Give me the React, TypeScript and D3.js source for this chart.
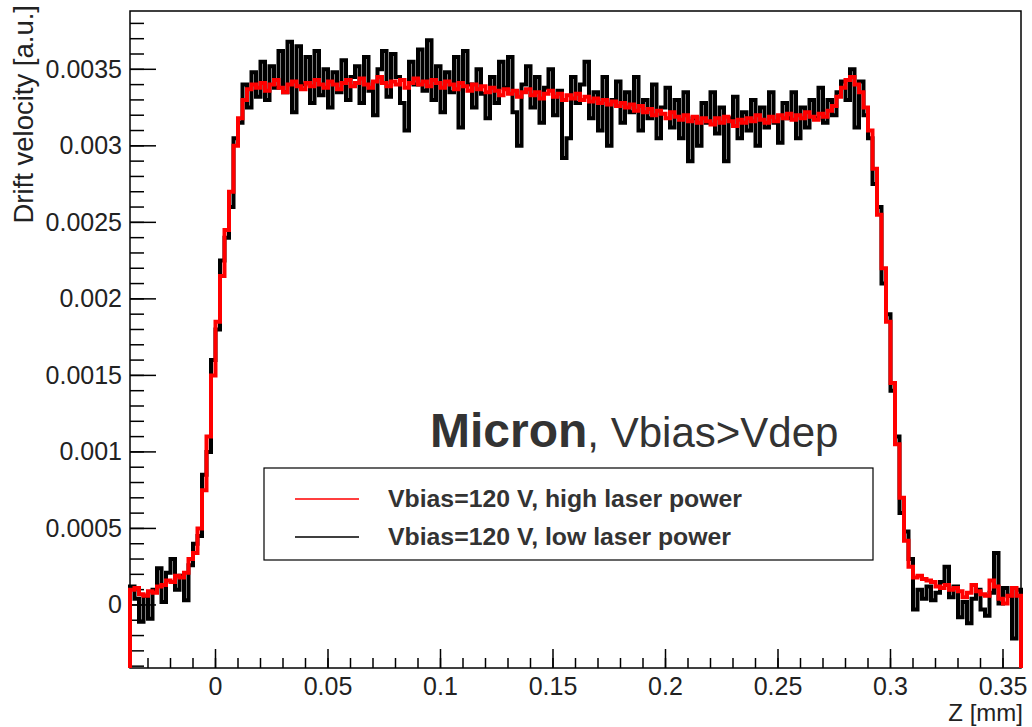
import React from "react";
import * as d3 from "d3";

// Histogram binning along Z [mm]: 198 bins of 2 µm from -0.038 mm
const zMin = -0.038;
const binWidth = 0.002;

// Drift velocity per bin [a.u.], Vbias = 120 V, high laser power
const highPower = [
  0.00010, 0.00011, 0.00007, 0.00006, 0.00009, 0.00008, 0.00012, 0.00013, 0.00016, 0.00015,
  0.00019, 0.00018, 0.00021, 0.00030, 0.00034, 0.00050, 0.00075, 0.00110, 0.00150, 0.00185,
  0.00215, 0.00245, 0.00270, 0.00300, 0.00318, 0.00330, 0.00337, 0.00340,
  0.00338, 0.00341, 0.00336, 0.00340, 0.00343, 0.00338, 0.00335, 0.00340, 0.00342, 0.00339,
  0.00337, 0.00341, 0.00339, 0.00343, 0.00340, 0.00338, 0.00342, 0.00340, 0.00337, 0.00341,
  0.00343, 0.00339, 0.00341, 0.00344, 0.00340, 0.00338, 0.00342, 0.00345, 0.00341, 0.00339,
  0.00342, 0.00340, 0.00343, 0.00338, 0.00341, 0.00344, 0.00340, 0.00342, 0.00339, 0.00343,
  0.00341, 0.00338, 0.00342, 0.00340, 0.00337, 0.00341, 0.00339, 0.00336, 0.00340, 0.00337,
  0.00339, 0.00335, 0.00338, 0.00336, 0.00333, 0.00337, 0.00334, 0.00336, 0.00332, 0.00335,
  0.00337, 0.00333, 0.00335, 0.00331, 0.00334, 0.00336, 0.00332, 0.00334, 0.00330, 0.00333,
  0.00331, 0.00334, 0.00330, 0.00332, 0.00329, 0.00331, 0.00328, 0.00330, 0.00327, 0.00329,
  0.00326, 0.00328, 0.00325, 0.00327, 0.00323, 0.00326, 0.00322, 0.00324, 0.00320, 0.00323,
  0.00321, 0.00318, 0.00322, 0.00319, 0.00317, 0.00320, 0.00316, 0.00319, 0.00315, 0.00318,
  0.00316, 0.00314, 0.00318, 0.00315, 0.00319, 0.00316, 0.00313, 0.00317, 0.00315, 0.00318,
  0.00316, 0.00320, 0.00317, 0.00315, 0.00319, 0.00316, 0.00320, 0.00318, 0.00321, 0.00317,
  0.00320, 0.00318, 0.00322, 0.00319, 0.00317, 0.00321, 0.00319, 0.00323, 0.00326, 0.00332,
  0.00338, 0.00343,
  0.00345, 0.00340, 0.00335, 0.00325, 0.00310, 0.00285, 0.00255, 0.00220, 0.00185, 0.00145,
  0.00105, 0.00070, 0.00042, 0.00025, 0.00018,
  0.00019, 0.00017, 0.00016, 0.00015, 0.00012, 0.00011, 0.00013, 0.00010, 0.00011, 0.00009,
  0.00005, 0.00008, 0.00013, 0.00009, 0.00007, 0.00006, 0.00016, 0.00012, 0.00004, 0.00001,
  0.00006, 0.00011, 0.00006,
];

// Drift velocity per bin [a.u.], Vbias = 120 V, low laser power
const lowPower = [
  0.00012, 0.00004, -0.00011, 0.00006, -0.00009, 0.00010, 0.00024, 0.00002, 0.00021, 0.00030,
  0.00010, 0.00019, 0.00003, 0.00026, 0.00040, 0.00045, 0.00085, 0.00100, 0.00160, 0.00180,
  0.00225, 0.00240, 0.00260, 0.00305, 0.00315, 0.00340, 0.00325, 0.00348,
  0.00332, 0.00355, 0.00330, 0.00352, 0.00338, 0.00362, 0.00335, 0.00368, 0.00322, 0.00365,
  0.00340, 0.00358, 0.00328, 0.00362, 0.00333, 0.00350, 0.00325, 0.00348, 0.00335, 0.00356,
  0.00330, 0.00345, 0.00352, 0.00328, 0.00358, 0.00336, 0.00320, 0.00350, 0.00362, 0.00332,
  0.00360, 0.00345, 0.00328, 0.00310, 0.00355, 0.00340, 0.00363, 0.00336, 0.00369, 0.00330,
  0.00352, 0.00322, 0.00348, 0.00335, 0.00358, 0.00312, 0.00362, 0.00340, 0.00325, 0.00350,
  0.00334, 0.00318, 0.00345, 0.00328, 0.00355, 0.00338, 0.00358, 0.00322, 0.00300, 0.00340,
  0.00352, 0.00325, 0.00345, 0.00315, 0.00338, 0.00350, 0.00320, 0.00336, 0.00292, 0.00305,
  0.00345, 0.00328, 0.00340, 0.00355, 0.00318, 0.00335, 0.00310, 0.00345, 0.00300, 0.00330,
  0.00342, 0.00315, 0.00335, 0.00322, 0.00345, 0.00310, 0.00330, 0.00318, 0.00340, 0.00305,
  0.00325, 0.00338, 0.00312, 0.00330, 0.00305, 0.00335, 0.00290, 0.00318, 0.00300, 0.00328,
  0.00315, 0.00335, 0.00308, 0.00325, 0.00290, 0.00318, 0.00332, 0.00305, 0.00322, 0.00310,
  0.00330, 0.00300, 0.00325, 0.00312, 0.00335, 0.00315, 0.00302, 0.00328, 0.00318, 0.00335,
  0.00305, 0.00325, 0.00312, 0.00330, 0.00318, 0.00338, 0.00315, 0.00330, 0.00320, 0.00335,
  0.00342, 0.00330,
  0.00350, 0.00312, 0.00342, 0.00320, 0.00305, 0.00275, 0.00260, 0.00210, 0.00190, 0.00140,
  0.00110, 0.00060, 0.00048, 0.00030, -0.00003,
  0.00010, 0.00004, 0.00012, 0.00003, 0.00008, 0.00015, 0.00025, 0.00005, 0.00012, -0.00008,
  0.00002, -0.00012, 0.00004, 0.00010, -0.00003, -0.00007, 0.00008, 0.00034, 0.00001, 0.00011,
  0.00006, -0.00022, 0.00010,
];

// Axis ticks
const xMajorTicks = [0, 0.05, 0.1, 0.15, 0.2, 0.25, 0.3, 0.35];
const xTickLabels = ["0", "0.05", "0.1", "0.15", "0.2", "0.25", "0.3", "0.35"];
const yMajorTicks = [0, 0.0005, 0.001, 0.0015, 0.002, 0.0025, 0.003, 0.0035];
const yTickLabels = ["0", "0.0005", "0.001", "0.0015", "0.002", "0.0025", "0.003", "0.0035"];

const legendItems = [
  { label: "Vbias=120 V, high laser power", color: "#ff0000" },
  { label: "Vbias=120 V, low laser power", color: "#000000" },
];

const W = 1032;
const H = 727;
const FONT = "'Liberation Sans', Arial, Helvetica, sans-serif";
const frame = { left: 130, right: 1021, top: 11, bottom: 668 };
const yDomain: [number, number] = [-0.000412, 0.003881];

export default function App() {
  const xMax = zMin + binWidth * highPower.length;
  const x = d3.scaleLinear().domain([zMin, xMax]).range([frame.left, frame.right]);
  const y = d3.scaleLinear().domain(yDomain).range([frame.bottom, frame.top]);

  // Histogram outline: rises from the axis floor, steps through the bins, falls back
  const histPath = (vals: number[]) => {
    const pts: [number, number][] = [[zMin, yDomain[0]]];
    vals.forEach((v, i) => {
      pts.push([zMin + i * binWidth, v]);
      pts.push([zMin + (i + 1) * binWidth, v]);
    });
    pts.push([zMin + vals.length * binWidth, yDomain[0]]);
    return d3.line<[number, number]>().x((d) => x(d[0])).y((d) => y(d[1]))(pts) || "";
  };

  const xMinor = d3.range(-30, 360, 10).map((k) => k / 1000).filter((v) => v >= zMin && v <= xMax);
  const yMinor = d3.range(-4, 39, 1).map((k) => k / 10000).filter((v) => v >= yDomain[0] && v <= yDomain[1]);

  const legend = { x: 264, y: 468, w: 609, h: 92 };

  return (
    <svg
      width={W}
      height={H}
      viewBox={`0 0 ${W} ${H}`}
      style={{ position: "absolute", left: 0, top: 0, background: "#fff" }}
      fontFamily={FONT}
    >
      <rect x={0} y={0} width={W} height={H} fill="#fff" />

      {/* frame */}
      <rect
        x={frame.left}
        y={frame.top}
        width={frame.right - frame.left}
        height={frame.bottom - frame.top}
        fill="none"
        stroke="#000"
        strokeWidth={1.5}
      />

      {/* x axis ticks */}
      {xMinor.map((v, i) => (
        <line key={`xm${i}`} x1={x(v)} x2={x(v)} y1={frame.bottom} y2={frame.bottom - 10} stroke="#000" strokeWidth={1.5} />
      ))}
      {xMajorTicks.map((v, i) => (
        <g key={`xM${i}`}>
          <line x1={x(v)} x2={x(v)} y1={frame.bottom} y2={frame.bottom - 19} stroke="#000" strokeWidth={1.5} />
          <text x={x(v)} y={695} textAnchor="middle" fontSize={25} fill="#222">
            {xTickLabels[i]}
          </text>
        </g>
      ))}

      {/* y axis ticks */}
      {yMinor.map((v, i) => (
        <line key={`ym${i}`} x1={frame.left} x2={frame.left + 14} y1={y(v)} y2={y(v)} stroke="#000" strokeWidth={1.5} />
      ))}
      {yMajorTicks.map((v, i) => (
        <g key={`yM${i}`}>
          <line x1={frame.left} x2={frame.left + 26} y1={y(v)} y2={y(v)} stroke="#000" strokeWidth={1.5} />
          <text x={122} y={y(v) + 8.5} textAnchor="end" fontSize={25} fill="#222">
            {yTickLabels[i]}
          </text>
        </g>
      ))}

      {/* axis titles */}
      <text x={1023} y={721} textAnchor="end" fontSize={24} fill="#222">
        Z [mm]
      </text>
      <text transform="translate(33,5) rotate(-90)" textAnchor="end" fontSize={27.5} fill="#222">
        Drift velocity [a.u.]
      </text>

      {/* histograms */}
      <path d={histPath(lowPower)} fill="none" stroke="#000" strokeWidth={4} strokeLinejoin="miter" />
      <path d={histPath(highPower)} fill="none" stroke="#ff0000" strokeWidth={4} strokeLinejoin="miter" />

      {/* annotation */}
      <text x={430} y={447} fill="#333">
        <tspan fontSize={48} fontWeight="bold">Micron</tspan>
        <tspan fontSize={42}>, Vbias&gt;Vdep</tspan>
      </text>

      {/* legend */}
      <rect x={legend.x} y={legend.y} width={legend.w} height={legend.h} fill="#fff" stroke="#000" strokeWidth={1.2} />
      {legendItems.map((item, i) => {
        const ly = 499 + i * 38;
        return (
          <g key={item.label}>
            <line x1={295} x2={359} y1={ly} y2={ly} stroke={item.color} strokeWidth={2} opacity={0.75} />
            <text x={388} y={ly + 8} fontSize={24.8} fontWeight="bold" fill="#333">
              {item.label}
            </text>
          </g>
        );
      })}
    </svg>
  );
}
